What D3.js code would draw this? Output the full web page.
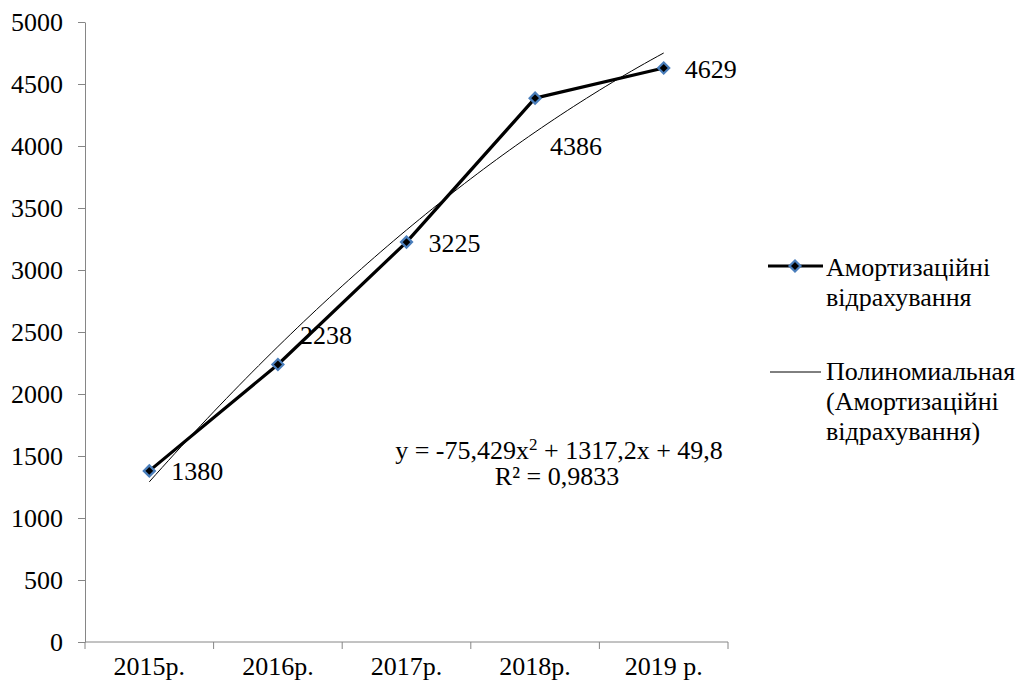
<!DOCTYPE html>
<html>
<head>
<meta charset="utf-8">
<script src="https://cdn.jsdelivr.net/npm/d3@7"></script>
<style>
  html, body { margin: 0; padding: 0; background: #fff; }
  svg { display: block; font-family: 'Liberation Serif', 'Times New Roman', 'DejaVu Serif', serif; }
  svg text { font-family: 'Liberation Serif', 'Times New Roman', 'DejaVu Serif', serif; fill: #000; }
</style>
</head>
<body>
<svg id="chart" width="1026" height="686"></svg>
<script>
// Depreciation deductions by year
const years = ["2015р.", "2016р.", "2017р.", "2018р.", "2019 р."];
const values = [1380, 2238, 3225, 4386, 4629];
const yTicks = [0, 500, 1000, 1500, 2000, 2500, 3000, 3500, 4000, 4500, 5000];
// Polynomial trend coefficients: y = a*x^2 + b*x + c, x = 1..5
const trendCoef = [-75.429, 1317.2, 49.8];
// Data-label offsets (dx, baseline dy) relative to each point
const labelOffsets = [[22, 9], [22, -20], [22, 10], [15, 57], [21, 10]];

(function () {
const svg = d3.select("#chart");
const plotLeft = 85, plotRight = 728, plotTop = 22, plotBottom = 642;
const fs = 26;
const serif = "Liberation Serif, Times New Roman, serif";

const x = d3.scaleBand().domain(years).range([plotLeft, plotRight]).paddingInner(0).paddingOuter(0);
const y = d3.scaleLinear().domain([0, 5000]).range([plotBottom, plotTop]);
const axisColor = "#868686";

// Y axis
const yAxis = svg.append("g").attr("transform", `translate(${plotLeft},0)`)
  .call(d3.axisLeft(y).tickValues(yTicks).tickFormat(d3.format("d"))
    .tickSize(7).tickSizeOuter(0).tickPadding(15));
yAxis.attr("font-family", serif).attr("font-size", fs);
yAxis.select(".domain").attr("stroke", axisColor);
yAxis.selectAll(".tick line").attr("stroke", axisColor);
yAxis.selectAll(".tick text").attr("font-size", fs).attr("font-family", serif).attr("fill", "#000");

// X axis with ticks on category boundaries
const xAxisG = svg.append("g").attr("transform", `translate(0,${plotBottom})`);
xAxisG.append("line").attr("x1", plotLeft).attr("x2", plotRight).attr("y1", 0).attr("y2", 0)
  .attr("stroke", axisColor);
const bounds = years.map(d => x(d)).concat([x(years[years.length - 1]) + x.bandwidth()]);
xAxisG.selectAll("line.tk").data(bounds).enter().append("line").attr("class", "tk")
  .attr("x1", d => d).attr("x2", d => d).attr("y1", 0).attr("y2", 7).attr("stroke", axisColor);
xAxisG.selectAll("text").data(years).enter().append("text")
  .attr("x", d => x(d) + x.bandwidth() / 2).attr("y", 33)
  .attr("text-anchor", "middle").attr("font-size", fs).attr("font-family", serif).text(d => d);

const cx = i => x(years[i]) + x.bandwidth() / 2;

// Trend line, sampled along x = 1..5
const xt = d3.scaleLinear().domain([1, 5]).range([cx(0), cx(4)]);
const trendPts = d3.range(1, 5.001, 0.05).map(t => [xt(t), y(trendCoef[0] * t * t + trendCoef[1] * t + trendCoef[2])]);
svg.append("path").attr("d", d3.line()(trendPts)).attr("fill", "none")
  .attr("stroke", "#000").attr("stroke-width", 1);

// Data line
svg.append("path").datum(values)
  .attr("d", d3.line().x((d, i) => cx(i)).y(d => y(d)))
  .attr("fill", "none").attr("stroke", "#000").attr("stroke-width", 3.2).attr("stroke-linejoin", "round");

const diamond = (px, py, r) => `M${px},${py - r}L${px + r},${py}L${px},${py + r}L${px - r},${py}Z`;
svg.selectAll("path.mk").data(values).enter().append("path").attr("class", "mk")
  .attr("d", (d, i) => diamond(cx(i), y(d), 5.5))
  .attr("fill", "#000").attr("stroke", "#4A7EBB").attr("stroke-width", 2.2);

// Data labels
svg.selectAll("text.lbl").data(values).enter().append("text").attr("class", "lbl")
  .attr("x", (d, i) => cx(i) + labelOffsets[i][0])
  .attr("y", (d, i) => y(d) + labelOffsets[i][1])
  .attr("font-size", fs).attr("font-family", serif).text(d => d);

// Trend equation
const eq = svg.append("text").attr("x", 559).attr("y", 459).attr("text-anchor", "middle")
  .attr("font-size", fs).attr("font-family", serif);
eq.append("tspan").text("y = -75,429x");
eq.append("tspan").attr("font-size", 17).attr("dy", -9).text("2");
eq.append("tspan").attr("dy", 9).text(" + 1317,2x + 49,8");
svg.append("text").attr("x", 557).attr("y", 485).attr("text-anchor", "middle")
  .attr("font-size", fs).attr("font-family", serif).text("R² = 0,9833");

// Legend
const lg = svg.append("g").attr("font-family", serif).attr("font-size", fs);
lg.append("line").attr("x1", 768).attr("x2", 823).attr("y1", 266).attr("y2", 266)
  .attr("stroke", "#000").attr("stroke-width", 3.2);
lg.append("path").attr("d", diamond(795, 266, 5.5)).attr("fill", "#000")
  .attr("stroke", "#4A7EBB").attr("stroke-width", 2.2);
lg.append("text").attr("x", 826).attr("y", 276).text("Амортизаційні");
lg.append("text").attr("x", 826).attr("y", 306).text("відрахування");
lg.append("line").attr("x1", 770).attr("x2", 821).attr("y1", 372).attr("y2", 372)
  .attr("stroke", "#000").attr("stroke-width", 1);
lg.append("text").attr("x", 826).attr("y", 380).text("Полиномиальная");
lg.append("text").attr("x", 826).attr("y", 410).text("(Амортизаційні");
lg.append("text").attr("x", 826).attr("y", 440).text("відрахування)");
})();
</script>
</body>
</html>
